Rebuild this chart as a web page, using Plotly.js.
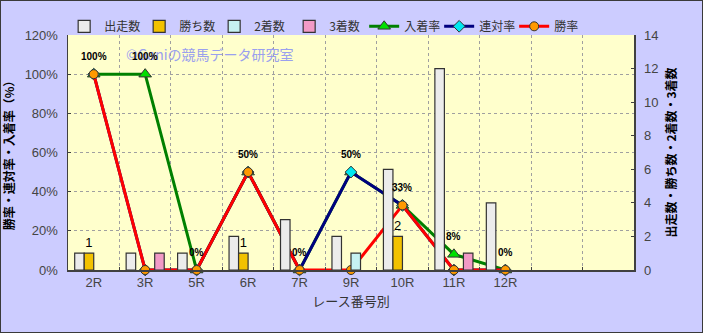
<!DOCTYPE html>
<html><head><meta charset="utf-8">
<script src="https://cdn.plot.ly/plotly-3.0.1.min.js"></script>
<style>
html,body{margin:0;padding:0;background:#ccccff;}
#wrap{position:relative;width:703px;height:333px;}
#chart{width:703px;height:333px;}
#frame{position:absolute;left:0;top:0;width:703px;height:333px;box-sizing:border-box;border:1.5px solid #3a3a3a;pointer-events:none;}
</style></head>
<body>
<div id="wrap"><div id="chart"></div><div id="frame"></div></div>
<script>
const races = ['2R','3R','5R','6R','7R','9R','10R','11R','12R'];
const emptySlots = [' ', '  '];
const runners = [1,1,1,2,3,2,6,12,4];
const wins = [1,0,0,1,0,0,2,0,0];
const seconds = [0,0,0,0,0,1,0,0,0];
const thirds = [0,1,0,0,0,0,0,1,0];
const placeRate = [100,100,0,50,0,50,33,8,0];
const quinellaRate = [100,0,0,50,0,50,33,0,0];
const winRate = [100,0,0,50,0,0,33,0,0];

const FONT = 'Liberation Sans, Noto Sans CJK JP, sans-serif';
const JP = 'Noto Sans CJK JP, sans-serif';

function bar(name, vals, color, withText) {
  const t = {
    type:'bar', name:name, x:races, y:vals.map(v => v > 0 ? v : null), yaxis:'y2',
    marker:{color:color, line:{color:'#333333', width:1.2}},
    hoverinfo:'skip'
  };
  if (withText) {
    t.text = vals.map(v => v > 0 ? String(v) : '');
    t.textposition = 'outside';
    t.constraintext = 'none';
    t.cliponaxis = false;
    t.outsidetextfont = {family:FONT, size:13, color:'#000000'};
  }
  return t;
}
function line(name, vals, color, symbol, mcolor, msize) {
  return {
    type:'scatter', mode:'lines+markers', name:name, x:races, y:vals, yaxis:'y',
    line:{color:color, width:3},
    marker:{symbol:symbol, color:mcolor, size:msize, line:{color:'#333333', width:1}},
    cliponaxis:false, hoverinfo:'skip'
  };
}

const data = [
  bar('出走数', runners, '#ececec', false),
  bar('勝ち数', wins, '#f2c200', true),
  bar('2着数', seconds, '#c6f2f2', false),
  bar('3着数', thirds, '#f29ac6', false),
  line('入着率', placeRate, '#008000', 'triangle-up', '#00e000', 11),
  line('連対率', quinellaRate, '#000080', 'diamond', '#00e8f0', 9),
  line('勝率', winRate, '#ff0000', 'circle', '#ff9900', 9)
];

const rateLabels = placeRate.map((v, i) => ({
  x: races[i], y: v, xref:'x', yref:'y', text: v + '%',
  showarrow:false, yshift:18,
  font:{family:'Liberation Sans, sans-serif', size:10, color:'#000000', weight:'bold'}
}));

const watermark = {
  xref:'paper', yref:'paper', x:0.251, y:0.918, xanchor:'center', yanchor:'middle', showarrow:false,
  text:'©Ganiの競馬データ研究室', font:{family:JP, size:14, color:'#9aa0ee'}
};

const layout = {
  width:703, height:333,
  paper_bgcolor:'#ccccff', plot_bgcolor:'#ffffcc',
  margin:{l:68, r:69, t:25, b:63},
  barmode:'group', bargap:0.26, bargroupgap:0,
  showlegend:true,
  legend:{orientation:'h', x:0.457, xanchor:'center', y:1.037, yanchor:'middle',
          bgcolor:'rgba(0,0,0,0)', font:{family:JP, size:12, color:'#333333'},
          itemwidth:30, entrywidth:30, entrywidthmode:'pixels', traceorder:'normal'},
  xaxis:{
    type:'category', categoryorder:'array', categoryarray: races.concat(emptySlots),
    range:[-0.5, 10.5], tickson:'boundaries', ticks:'inside', ticklen:3, tickcolor:'#404040',
    showgrid:true, gridcolor:'#a0a0a0', griddash:'dot', gridwidth:1,
    showline:true, linecolor:'#404040', linewidth:1.5,
    tickfont:{family:FONT, size:13, color:'#444444'},
    title:{text:'レース番号別', font:{family:JP, size:13, color:'#333333'}, standoff:8},
    fixedrange:true
  },
  yaxis:{
    range:[0,120], dtick:20, ticksuffix:'%', ticks:'inside', ticklen:3, tickcolor:'#404040',
    showgrid:true, gridcolor:'#a0a0a0', griddash:'dot', gridwidth:1,
    showline:true, linecolor:'#404040', linewidth:1.5, zeroline:false,
    tickfont:{family:FONT, size:13, color:'#444444'}, ticklabelstandoff:6,
    title:{text:'勝率・連対率・入着率（%）', font:{family:JP, size:12, color:'#000000', weight:'bold'}, standoff:10},
    fixedrange:true
  },
  yaxis2:{
    overlaying:'y', side:'right', range:[0,14], dtick:2, ticks:'inside', ticklen:3, tickcolor:'#404040',
    showgrid:false, showline:true, linecolor:'#404040', linewidth:1.5, zeroline:false,
    tickfont:{family:FONT, size:13, color:'#444444'}, ticklabelstandoff:6,
    title:{text:'出走数・勝ち数・2着数・3着数', font:{family:JP, size:12, color:'#000000', weight:'bold'}, standoff:10},
    fixedrange:true
  },
  annotations: [watermark].concat(rateLabels)
};

Plotly.newPlot('chart', data, layout, {staticPlot:true, displayModeBar:false});
</script>
</body></html>
